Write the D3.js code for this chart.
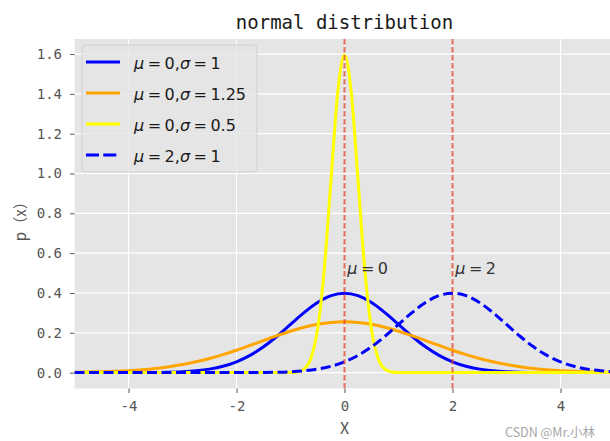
<!DOCTYPE html>
<html>
<head>
<meta charset="utf-8">
<script src="https://cdn.jsdelivr.net/npm/d3@7"></script>
<style>
  body { margin: 0; background: #fff; }
  svg { display: block; }
</style>
</head>
<body>
<div id="chart"></div>
<script>
// sample grid shared by the wide curves
const xGrid = [-5, -4.75, -4.5, -4.25, -4, -3.75, -3.5, -3.25, -3, -2.75, -2.5, -2.25, -2, -1.75, -1.5, -1.25, -1, -0.75, -0.5, -0.25,
  0, 0.25, 0.5, 0.75, 1, 1.25, 1.5, 1.75, 2, 2.25, 2.5, 2.75, 3, 3.25, 3.5, 3.75, 4, 4.25, 4.5, 4.75, 5];

// mu=0, sigma=1
const pdfBlue = [0, 0, 0, 0.0001, 0.0001, 0.0004, 0.0009, 0.0020, 0.0044, 0.0091, 0.0175, 0.0317, 0.0540, 0.0863, 0.1295, 0.1826, 0.2420, 0.3011, 0.3521, 0.3867,
  0.3989, 0.3867, 0.3521, 0.3011, 0.2420, 0.1826, 0.1295, 0.0863, 0.0540, 0.0317, 0.0175, 0.0091, 0.0044, 0.0020, 0.0009, 0.0004, 0.0001, 0.0001, 0, 0, 0];

// mu=0, sigma=1.25
const pdfOrange = [0.0015, 0.0025, 0.0040, 0.0063, 0.0096, 0.0143, 0.0208, 0.0294, 0.0404, 0.0543, 0.0710, 0.0905, 0.1125, 0.1364, 0.1610, 0.1854, 0.2080, 0.2275, 0.2426, 0.2521,
  0.2553, 0.2521, 0.2426, 0.2275, 0.2080, 0.1854, 0.1610, 0.1364, 0.1125, 0.0905, 0.0710, 0.0543, 0.0404, 0.0294, 0.0208, 0.0143, 0.0096, 0.0063, 0.0040, 0.0025, 0.0015];

// mu=2, sigma=1
const pdfShifted = [0, 0, 0, 0, 0, 0, 0, 0, 0, 0, 0, 0.0001, 0.0001, 0.0004, 0.0009, 0.0020, 0.0044, 0.0091, 0.0175, 0.0317,
  0.0540, 0.0863, 0.1295, 0.1826, 0.2420, 0.3011, 0.3521, 0.3867, 0.3989, 0.3867, 0.3521, 0.3011, 0.2420, 0.1826, 0.1295, 0.0863, 0.0540, 0.0317, 0.0175, 0.0091, 0.0044];

// mu=0, sigma=0.5 (narrow peak, needs its own finer grid)
const xYellow = [-5, -1.5, -1.25, -1.125, -1, -0.875, -0.75, -0.625, -0.5, -0.375, -0.25, -0.125,
  0, 0.125, 0.25, 0.375, 0.5, 0.625, 0.75, 0.875, 1, 1.125, 1.25, 1.5, 5];
const pdfYellow = [0, 0, 0, 0, 0.0005, 0.0035, 0.0177, 0.0701, 0.2160, 0.5181, 0.9679, 1.4083,
  1.5958, 1.4083, 0.9679, 0.5181, 0.2160, 0.0701, 0.0177, 0.0035, 0.0005, 0, 0, 0, 0];

const xTicks = [-4, -2, 0, 2, 4];
const yTicks = [0, 0.2, 0.4, 0.6, 0.8, 1.0, 1.2, 1.4, 1.6];
const meanLines = [0, 2];
const meanLabels = ['0', '2'];

const seriesNames = [
  { mu: '0', sigma: '1' },
  { mu: '0', sigma: '1.25' },
  { mu: '0', sigma: '0.5' },
  { mu: '2', sigma: '1' }
];
const seriesColors = ['#0000ff', '#ffa500', '#ffff00', '#0000ff'];

const width = 610, height = 441;
const plot = { left: 74.5, right: 614.5, top: 39, bottom: 388.5 };

const monoFont = '"DejaVu Sans Mono", "Liberation Mono", monospace';
const mathFont = '"DejaVu Sans", sans-serif';
const cjkFont = '"Noto Sans CJK SC", "Noto Sans", sans-serif';

const x = d3.scaleLinear().domain([-5, 5]).range([plot.left, plot.right]);
const y = d3.scaleLinear().domain([-0.0798, 1.6756]).range([plot.bottom, plot.top]);

const svg = d3.select('#chart').append('svg')
  .attr('width', width)
  .attr('height', height);

svg.append('defs').append('clipPath')
  .attr('id', 'plot-clip')
  .append('rect')
  .attr('x', plot.left)
  .attr('y', plot.top)
  .attr('width', plot.right - plot.left)
  .attr('height', plot.bottom - plot.top);

// axes background
svg.append('rect')
  .attr('x', plot.left)
  .attr('y', plot.top)
  .attr('width', plot.right - plot.left)
  .attr('height', plot.bottom - plot.top)
  .attr('fill', '#e5e5e5');

// white grid
const grid = svg.append('g').attr('clip-path', 'url(#plot-clip)');
grid.selectAll('.gx').data(xTicks).enter().append('line')
  .attr('x1', d => x(d)).attr('x2', d => x(d))
  .attr('y1', plot.top).attr('y2', plot.bottom)
  .attr('stroke', '#fff').attr('stroke-width', 1.2);
grid.selectAll('.gy').data(yTicks).enter().append('line')
  .attr('x1', plot.left).attr('x2', plot.right)
  .attr('y1', d => y(d)).attr('y2', d => y(d))
  .attr('stroke', '#fff').attr('stroke-width', 1.2);

// axes
const xAxis = svg.append('g')
  .attr('transform', `translate(0,${plot.bottom})`)
  .call(d3.axisBottom(x).tickValues(xTicks).tickSize(4.5).tickPadding(8).tickFormat(d => String(d)));
const yAxis = svg.append('g')
  .attr('transform', `translate(${plot.left},0)`)
  .call(d3.axisLeft(y).tickValues(yTicks).tickSize(4.5).tickPadding(8).tickFormat(d3.format('.1f')));

[xAxis, yAxis].forEach(ax => {
  ax.select('.domain').remove();
  ax.selectAll('.tick line').attr('stroke', '#555').attr('stroke-width', 1);
  ax.selectAll('.tick text')
    .attr('fill', '#555')
    .style('font-family', monoFont)
    .style('font-size', '14px');
});

// curves
const line = d3.line()
  .x(d => x(d[0]))
  .y(d => y(d[1]))
  .curve(d3.curveMonotoneX);

const curves = [
  { pts: d3.zip(xGrid, pdfBlue), color: seriesColors[0], dash: null },
  { pts: d3.zip(xGrid, pdfOrange), color: seriesColors[1], dash: null },
  { pts: d3.zip(xYellow, pdfYellow), color: seriesColors[2], dash: null },
  { pts: d3.zip(xGrid, pdfShifted), color: seriesColors[3], dash: '10,4.5' }
];

const curveLayer = svg.append('g').attr('clip-path', 'url(#plot-clip)');
curves.forEach(c => {
  curveLayer.append('path')
    .datum(c.pts)
    .attr('d', line)
    .attr('fill', 'none')
    .attr('stroke', c.color)
    .attr('stroke-width', 3)
    .attr('stroke-dasharray', c.dash);
});

// mean markers
curveLayer.selectAll('.mean').data(meanLines).enter().append('line')
  .attr('x1', d => x(d)).attr('x2', d => x(d))
  .attr('y1', plot.top).attr('y2', plot.bottom)
  .attr('stroke', '#e24a33')
  .attr('stroke-opacity', 0.8)
  .attr('stroke-width', 2)
  .attr('stroke-dasharray', '5.5,2.5');

// writes  mu=a,sigma=b  in the mathtext look
function mathLabel(sel, parts) {
  parts.forEach(p => {
    const t = sel.append('tspan').text(p.t);
    if (p.it) t.style('font-style', 'italic');
    if (p.dx) t.attr('dx', p.dx);
  });
}

meanLines.forEach((m, i) => {
  const t = svg.append('text')
    .attr('x', x(m + 0.05))
    .attr('y', y(0.5) + 1)
    .attr('fill', '#333')
    .style('font-family', mathFont)
    .style('font-size', '16px');
  mathLabel(t, [{ t: 'μ', it: true }, { t: '=', dx: 3.5 }, { t: meanLabels[i], dx: 3.5 }]);
});

// legend
const legend = svg.append('g');
legend.append('rect')
  .attr('x', 82).attr('y', 45)
  .attr('width', 175).attr('height', 127)
  .attr('rx', 4)
  .attr('fill', '#e5e5e5').attr('fill-opacity', 0.8)
  .attr('stroke', '#cccccc').attr('stroke-opacity', 0.8).attr('stroke-width', 1);

seriesNames.forEach((s, i) => {
  const rowY = 62 + i * 31;
  legend.append('line')
    .attr('x1', 86).attr('x2', 120)
    .attr('y1', rowY).attr('y2', rowY)
    .attr('stroke', seriesColors[i])
    .attr('stroke-width', 3)
    .attr('stroke-dasharray', i === 3 ? '13,4.3' : null);
  const t = legend.append('text')
    .attr('x', 134)
    .attr('y', rowY + 6.5)
    .attr('fill', '#1a1a1a')
    .style('font-family', mathFont)
    .style('font-size', '16px');
  mathLabel(t, [
    { t: 'μ', it: true }, { t: '=', dx: 3.5 }, { t: s.mu, dx: 3.5 }, { t: ',' },
    { t: 'σ', it: true }, { t: '=', dx: 3.5 }, { t: s.sigma, dx: 3.5 }
  ]);
});

// titles
svg.append('text')
  .attr('x', (plot.left + plot.right) / 2)
  .attr('y', 29)
  .attr('text-anchor', 'middle')
  .attr('fill', '#1a1a1a')
  .style('font-family', monoFont)
  .style('font-size', '19px')
  .text('normal distribution');

svg.append('text')
  .attr('x', (plot.left + plot.right) / 2)
  .attr('y', 434)
  .attr('text-anchor', 'middle')
  .attr('fill', '#555')
  .style('font-family', cjkFont)
  .style('font-size', '16px')
  .text('X');

svg.append('text')
  .attr('transform', `translate(26,${(plot.top + plot.bottom) / 2 + 4}) rotate(-90)`)
  .attr('text-anchor', 'middle')
  .attr('fill', '#555')
  .style('font-family', cjkFont)
  .style('font-size', '15px')
  .text('p（x）');

// watermark from the source screenshot
svg.append('text')
  .attr('x', 505)
  .attr('y', 437)
  .attr('fill', '#a6a6a6')
  .style('font-family', cjkFont)
  .style('font-size', '12.5px')
  .text('CSDN @Mr.小林');
</script>
</body>
</html>
